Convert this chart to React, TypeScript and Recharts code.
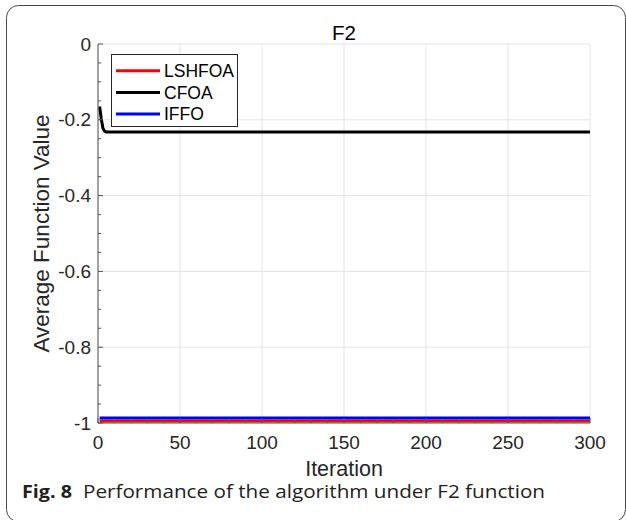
import { LineChart, Line, XAxis, YAxis, CartesianGrid, Legend, Label } from "recharts";

// axis ticks (minor + major) and the labelled ones
const iterTicks = [0, 10, 20, 30, 40, 50, 60, 70, 80, 90, 100, 110, 120, 130, 140, 150, 160, 170, 180, 190, 200, 210, 220, 230, 240, 250, 260, 270, 280, 290, 300];
const iterLabels = [0, 50, 100, 150, 200, 250, 300];
const valueTicks = [0, -0.05, -0.1, -0.15, -0.2, -0.25, -0.3, -0.35, -0.4, -0.45, -0.5, -0.55, -0.6, -0.65, -0.7, -0.75, -0.8, -0.85, -0.9, -0.95, -1];
const valueLabels = [0, -0.2, -0.4, -0.6, -0.8, -1];

// series
const seriesNames = ["LSHFOA", "CFOA", "IFFO"];
const lshfoaIter = [1, 300];
const lshfoaValue = [-0.995, -0.995];
const cfoaIter = [1, 2, 3, 4, 5, 300];
const cfoaValue = [-0.165, -0.198, -0.222, -0.23, -0.232, -0.232];
const iffoIter = [1, 300];
const iffoValue = [-0.987, -0.987];

const zip = (xs: number[], ys: number[]) => xs.map((it, i) => ({ iteration: it, value: ys[i] }));
const lshfoaData = zip(lshfoaIter, lshfoaValue);
const cfoaData = zip(cfoaIter, cfoaValue);
const iffoData = zip(iffoIter, iffoValue);

const AXIS = "#555555";
const TEXT = "#262626";
const GRID = "#e4e4e4";
const FONT = "'Liberation Sans', Arial, Helvetica, sans-serif";

const isLabel = (list: number[], v: number) => list.some((l) => Math.abs(l - v) < 1e-9);

function BottomTick(props: any) {
  const { x, y, payload } = props;
  const major = isLabel(iterLabels, payload.value);
  return (
    <g>
      <line x1={x} x2={x} y1={y} y2={y - (major ? 5 : 3)} stroke={AXIS} />
      {major && (
        <text x={x} y={y + 26} textAnchor="middle" fontSize={19} fill={TEXT} fontFamily={FONT}>
          {payload.value}
        </text>
      )}
    </g>
  );
}

function TopTick(props: any) {
  const { x, y, payload } = props;
  const major = isLabel(iterLabels, payload.value);
  return <line x1={x} x2={x} y1={y} y2={y + (major ? 5 : 3)} stroke={AXIS} />;
}

function LeftTick(props: any) {
  const { x, y, payload } = props;
  const major = isLabel(valueLabels, payload.value);
  return (
    <g>
      <line x1={x} x2={x + (major ? 5 : 3)} y1={y} y2={y} stroke={AXIS} />
      {major && (
        <text x={x - 7} y={y + 6.5} textAnchor="end" fontSize={19} fill={TEXT} fontFamily={FONT}>
          {String(payload.value)}
        </text>
      )}
    </g>
  );
}

function RightTick(props: any) {
  const { x, y, payload } = props;
  const major = isLabel(valueLabels, payload.value);
  return <line x1={x} x2={x - (major ? 5 : 3)} y1={y} y2={y} stroke={AXIS} />;
}

function LegendBox(props: any) {
  const items = [...(props.payload || [])].sort(
    (a: any, b: any) => seriesNames.indexOf(a.value) - seriesNames.indexOf(b.value)
  );
  return (
    <svg width={127} height={73} style={{ display: "block" }}>
      <rect x={0.5} y={0.5} width={126} height={72} fill="#fff" stroke={TEXT} />
      {items.map((p: any, i: number) => {
        const cy = 16.7 + i * 21.7;
        return (
          <g key={p.value}>
            <line x1={5} x2={49} y1={cy} y2={cy} stroke={p.color} strokeWidth={3} />
            <text x={53} y={cy + 6.3} fontSize={17.5} fill="#000" fontFamily={FONT}>{p.value}</text>
          </g>
        );
      })}
    </svg>
  );
}

export default function App() {
  return (
    <div style={{ position: "absolute", left: 0, top: 0, width: 626, height: 520, background: "#fff" }}>
      <svg width={626} height={520} style={{ position: "absolute", left: 0, top: 0 }}>
        <rect x={6.5} y={5.5} width={619} height={516} rx={12} fill="none" stroke="#4a4a4a" />
        <text x={344} y={40} textAnchor="middle" fontSize={20.5} fill="#000" fontFamily={FONT}>
          F2
        </text>
        <text x={22} y={498} fontFamily="'Open Sans', 'Noto Sans', sans-serif" fontSize={18} fontWeight="bold" fill="#231f20" textLength={50} lengthAdjust="spacingAndGlyphs">
          Fig. 8
        </text>
        <text x={83} y={498} fontFamily="'Open Sans', 'Noto Sans', sans-serif" fontSize={18} fill="#231f20" textLength={462} lengthAdjust="spacingAndGlyphs">
          Performance of the algorithm under F2 function
        </text>
      </svg>
      <div style={{ position: "absolute", left: 0, top: 0 }}>
        <LineChart width={626} height={490} margin={{ top: 44, right: 36, bottom: 0, left: 0 }}>
          <CartesianGrid horizontalValues={valueLabels} verticalValues={iterLabels} stroke={GRID} strokeDasharray="" />
          <XAxis
            dataKey="iteration" type="number" domain={[0, 300]} ticks={iterTicks} interval={0}
            height={67} tickSize={0} tickMargin={0} tickLine={false} axisLine={{ stroke: AXIS }} tick={<BottomTick />}
          >
            <Label
              content={(p: any) => (
                <text x={p.viewBox.x + p.viewBox.width / 2} y={p.viewBox.y + 53} textAnchor="middle" fontSize={21.5} fill={TEXT} fontFamily={FONT}>
                  Iteration
                </text>
              )}
            />
          </XAxis>
          <XAxis
            xAxisId="top" orientation="top" type="number" domain={[0, 300]} ticks={iterTicks} interval={0}
            height={0} tickSize={0} tickMargin={0} tickLine={false} axisLine={{ stroke: AXIS }} tick={<TopTick />}
          />
          <YAxis
            type="number" domain={[-1, 0]} ticks={valueTicks} interval={0}
            width={98} tickSize={0} tickMargin={0} tickLine={false} axisLine={{ stroke: AXIS }} tick={<LeftTick />}
          >
            <Label
              content={(p: any) => {
                const cx = p.viewBox.x + 49;
                const cy = p.viewBox.y + p.viewBox.height / 2;
                return (
                  <text x={cx} y={cy} transform={`rotate(-90 ${cx} ${cy})`} textAnchor="middle" fontSize={22.5} fill={TEXT} fontFamily={FONT}>
                    Average Function Value
                  </text>
                );
              }}
            />
          </YAxis>
          <YAxis
            yAxisId="right" orientation="right" type="number" domain={[-1, 0]} ticks={valueTicks} interval={0}
            width={0} tickSize={0} tickMargin={0} tickLine={false} axisLine={{ stroke: AXIS }} tick={<RightTick />}
          />
          <Line data={lshfoaData} dataKey="value" name="LSHFOA" stroke="#ff0000" strokeWidth={3} dot={false} type="linear" isAnimationActive={false} />
          <Line data={cfoaData} dataKey="value" name="CFOA" stroke="#000000" strokeWidth={3} dot={false} type="linear" isAnimationActive={false} />
          <Line data={iffoData} dataKey="value" name="IFFO" stroke="#0000ff" strokeWidth={3} dot={false} type="linear" isAnimationActive={false} />
          <Legend
            layout="horizontal" verticalAlign="middle" align="center" content={<LegendBox />}
            wrapperStyle={{ position: "absolute", left: 111, top: 54, width: 127, height: 73 }}
          />
        </LineChart>
      </div>
    </div>
  );
}
